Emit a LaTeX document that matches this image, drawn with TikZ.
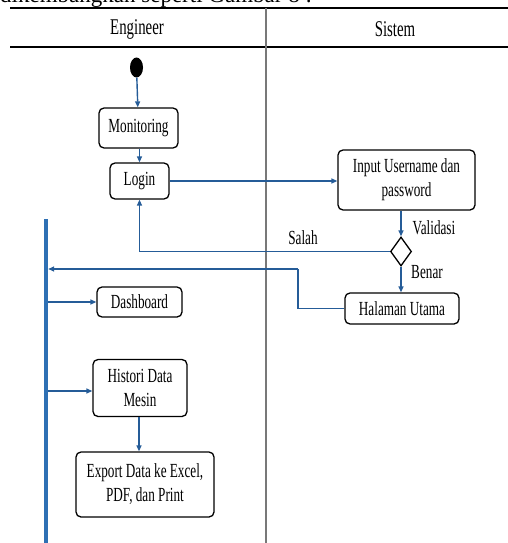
\documentclass[tikz,border=0pt]{standalone}
\usepackage{fontspec}
\setmainfont{Liberation Serif}
\newfontfamily\narrowserif{Liberation Serif}[FakeStretch=0.66]
\usepackage{tikz}
\usetikzlibrary{positioning,calc,shapes.geometric,arrows.meta}
\definecolor{FlowBlue}{RGB}{37,92,152}
\definecolor{ForkBlue}{RGB}{46,112,180}
\definecolor{LaneGray}{RGB}{120,120,120}

\tikzset{
  act/.style={draw=black,line width=1.3pt,rounded corners=5pt,fill=white,align=center,inner sep=0pt,
    font=\narrowserif\fontsize{20}{24}\selectfont},
  lbl/.style={font=\narrowserif\fontsize{20}{24}\selectfont,inner sep=0pt},
  lanehead/.style={font=\narrowserif\fontsize{22.5}{26}\selectfont,inner sep=0pt},
  flow/.style={draw=FlowBlue,line width=1.4pt,-{Triangle[length=6pt,width=5pt]}},
  flowline/.style={draw=FlowBlue,line width=1.4pt},
}

\begin{document}
\begin{tikzpicture}[x=1pt,y=-1pt]
\useasboundingbox (0,0) rectangle (508,543);
% text of the page above the figure
\node[anchor=base west,inner sep=0pt,font=\fontsize{23}{27}\selectfont] (pagetext) at (0,2.5) {dikembangkan seperti Gambar 8 :};
% swimlanes
\draw[line width=1.2pt] (10,8) -- (508,8);
\draw[line width=1.2pt] (10,47) -- (508,47);
\draw[LaneGray,line width=1.5pt] (266,8) -- (266,543);
\node[lanehead] (laneA) at (137,29) {Engineer};
\node[lanehead] (laneB) at (395,29) {Sistem};

% actions
\node[ellipse,fill=black,minimum width=13pt,minimum height=20pt,inner sep=0pt] (start) at (136.5,67.5) {};
\node[act,minimum width=79pt,minimum height=40pt] (mon) at (138.5,128) {Monitoring};
\node[act,minimum width=59pt,minimum height=36pt] (login) at (139.5,181) {Login};
\node[act,minimum width=137pt,minimum height=60pt] (input) at (406.5,180) {Input Username dan\\password};
\node[diamond,draw=black,line width=1.3pt,minimum width=21pt,minimum height=29pt,inner sep=0pt] (valid) at (401,251.5) {};
\node[act,minimum width=114pt,minimum height=31pt] (home) at (402,308.5) {Halaman Utama};
\node[draw=none,fill=ForkBlue,minimum width=4pt,minimum height=324pt,inner sep=0pt] (fork) at (46,381) {};
\node[act,minimum width=85pt,minimum height=30pt] (dash) at (139.5,302) {Dashboard};
\node[act,minimum width=94pt,minimum height=57pt] (hist) at (140,388) {Histori Data\\Mesin};
\node[act,minimum width=138pt,minimum height=65pt] (export) at (145,484.5) {Export Data ke Excel,\\PDF, dan Print};

% flows
\draw[flow] (start) -- (mon);
\draw[flow] (mon.south -| login) -- (login.north);
\draw[flow] (login.east) -- (login.east -| input.west);
\draw[flow] (input.south -| valid) -- (valid.north);
\draw[flow] (valid.west) -| (login.south);
\draw[flow] (valid.south) -- (valid.south |- home.north);
\coordinate (back) at (298,269);
\draw[flowline] (home.west) -| (back);
\draw[flow] (back) -- (back -| fork.east);
\draw[flow] (fork.east |- dash.west) -- (dash.west);
\coordinate (histin) at (0,391);
\draw[flow] (fork.east |- histin) -- (hist.west |- histin);
\coordinate (histx) at (139,0);
\draw[flow] (hist.south -| histx) -- (histx |- export.north);

\node[lbl] (validtxt) at (434,228) {Validasi};
\node[lbl] (wrong) at (303,238) {Salah};
\node[lbl] (right) at (427,272) {Benar};
\end{tikzpicture}
\end{document}
